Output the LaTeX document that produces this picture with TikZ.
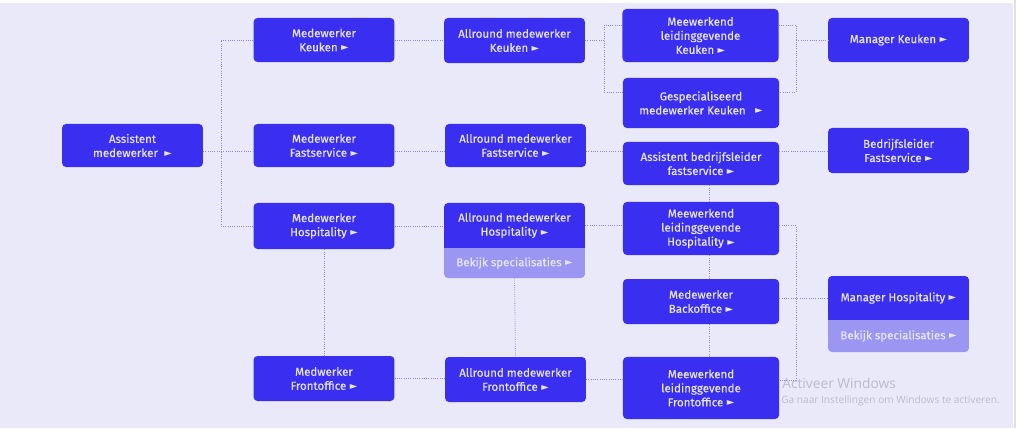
\documentclass[tikz,border=0pt]{standalone}
\usepackage{fontspec}
\setmainfont{Fira Sans}[FakeBold=0.35]
\newfontfamily\dejavu{DejaVu Sans}
\newfontfamily\winfont{Open Sans}
\usetikzlibrary{positioning}
\definecolor{achtergrond}{RGB}{234,233,250}
\definecolor{blokkleur}{RGB}{58,46,240}
\definecolor{lichtkleur}{RGB}{155,150,242}
\definecolor{tekstkleur}{RGB}{232,230,255}
\definecolor{lijnkleur}{RGB}{140,132,240}
\definecolor{wmkleur}{RGB}{188,186,204}
\newcommand{\pijl}{\hspace{2.5pt}\raisebox{0.1ex}{\dejavu\fontsize{7}{7}\selectfont ►}}
\begin{document}
\begin{tikzpicture}[x=0.025cm, y=-0.025cm,
	blok/.style={fill=blokkleur, text=tekstkleur, rounded corners=2.8pt, inner sep=0pt,
		align=center, font=\fontsize{8.2}{10}\selectfont, minimum width=3.52cm},
	breed/.style={blok, minimum width=3.9cm},
	licht/.style={blok, fill=lichtkleur},
	lijn/.style={lijnkleur, densely dotted, line width=0.6pt}]
	% achtergrond en randen van het scherm
	\useasboundingbox (0,0) rectangle (1024,428);
	\fill[white] (0,0) rectangle (1024,428);
	\fill[achtergrond] (0,3) rectangle (1013,428);
	\fill[black!12] (1014,0) rectangle (1016,428);
	% eerste kolommen
	\node[blok, minimum height=1.075cm] (A) at (132.5,145.5) {Assistent\\medewerker \pijl};
	\node[blok, minimum height=1.1cm] (MK) at (324,40) {Medewerker\\Keuken\pijl};
	\node[blok, minimum height=1.075cm] (MF) at (324,145.5) {Medewerker\\Fastservice\pijl};
	\node[blok, minimum height=1.15cm] (MH) at (324,226) {Medewerker\\Hospitality\pijl};
	\node[blok, minimum height=1.125cm] (MFo) at (324,378.5) {Medwerker\\Frontoffice\pijl};
	% allround
	\node[blok, minimum height=1.125cm] (AK) at (514.5,40.5) {Allround medewerker\\Keuken\pijl};
	\node[blok, minimum height=1.075cm] (AF) at (515.5,145.5) {Allround medewerker\\Fastservice\pijl};
	\node[blok, minimum height=1.125cm] (AH) at (514.5,225.5) {Allround medewerker\\Hospitality\pijl};
	\node[licht, minimum height=0.75cm] (AHs) at (514.5,263) {Bekijk specialisaties\pijl};
	\node[blok, minimum height=1.125cm] (AFo) at (515.5,379.5) {Allround medewerker\\Frontoffice\pijl};
	% leidinggevenden
	\node[breed, minimum height=1.325cm] (MLK) at (700.5,35.5) {Meewerkend\\leidinggevende\\Keuken\pijl};
	\node[breed, minimum height=1.25cm] (GK) at (701,103) {Gespecialiseerd\\medewerker Keuken \ \pijl};
	\node[breed, minimum height=1.075cm] (ABF) at (701,163.5) {Assistent bedrijfsleider\\fastservice\pijl};
	\node[breed, minimum height=1.325cm] (MLH) at (701,228.5) {Meewerkend\\leidinggevende\\Hospitality\pijl};
	\node[breed, minimum height=1.125cm] (MB) at (701,301.5) {Medewerker\\Backoffice\pijl};
	\node[breed, minimum height=1.55cm] (MLF) at (701,388) {Meewerkend\\leidinggevende\\Frontoffice\pijl};
	% managers
	\node[blok, minimum height=1.1cm] (MgK) at (898.5,40) {Manager Keuken\pijl};
	\node[blok, minimum height=1.125cm] (BF) at (898.5,150.5) {Bedrijfsleider\\Fastservice\pijl};
	\node[blok, minimum height=1.1cm] (MgH) at (898.5,298) {Manager Hospitality\pijl};
	\node[licht, minimum height=0.8cm] (MgHs) at (898.5,336) {Bekijk specialisaties\pijl};
	% rechte naad tussen donker en licht
	\foreach \d/\l in {AH/AHs, MgH/MgHs} {
		\fill[blokkleur] ([yshift=3pt]\d.south west) rectangle (\d.south east);
		\fill[lichtkleur] (\l.north west) rectangle ([yshift=-3pt]\l.north east);
	}
	% hulppunten voor de verbindingen
	\coordinate (s1) at (221,151);
	\coordinate (k1) at (604,25);
	\coordinate (k2) at (604,92);
	\coordinate (k3) at (796,25);
	\coordinate (k4) at (796,92);
	\coordinate (h2) at (796,380);
	\coordinate (kol) at (709,0);
	% verbindingen
	\draw[lijn] (A.east |- s1) -- (s1);
	\draw[lijn] (MK.west) -| (s1) |- (MH.west);
	\draw[lijn] (s1) -- (MF.west |- s1);
	\draw[lijn] (MK.east) -- (AK.west |- MK.east);
	\draw[lijn] (MF.east |- s1) -- (AF.west |- s1);
	\draw[lijn] (AF.east |- s1) -- (ABF.west |- s1);
	\draw[lijn] (ABF.east |- s1) -- (BF.west |- s1);
	\draw[lijn] (MH.east) -- (AH.west |- MH.east);
	\draw[lijn] (MH.south) -- (MFo.north);
	\draw[lijn] (MFo.east) -- (AFo.west |- MFo.east);
	\draw[lijn] (AHs.south) -- (AFo.north);
	\draw[lijn] (AK.east) -- (AK.east -| k1);
	\draw[lijn] (MLK.west |- k1) -- (k1) -- (k2) -- (GK.west |- k2);
	\draw[lijn] (MLK.east |- k3) -- (k3) -- (k4) -- (GK.east |- k4);
	\draw[lijn] (k3 |- MgK.west) -- (MgK.west);
	\draw[lijn] (ABF.south -| kol) -- (MLH.north -| kol);
	\draw[lijn] (MLH.south -| kol) -- (MB.north -| kol);
	\draw[lijn] (MB.south -| kol) -- (MLF.north -| kol);
	\draw[lijn] (AH.east) -- (MLH.west |- AH.east);
	\draw[lijn] (MLH.east |- AH.east) -| (h2) -- (MLF.east |- h2);
	\draw[lijn] (AFo.east) -- (MLF.west |- AFo.east);
	\draw[lijn] (MB.east |- MgH.west) -- (MgH.west);
	% melding van Windows
	\node[anchor=west, text=wmkleur, inner sep=0pt, font=\winfont\fontsize{9.8}{10}\selectfont] (wm1) at (782,383) {Activeer Windows};
	\node[anchor=west, text=wmkleur, inner sep=0pt, font=\winfont\fontsize{7.2}{8}\selectfont] (wm2) at (781,401) {Ga naar Instellingen om Windows te activeren.};
\end{tikzpicture}
\end{document}
